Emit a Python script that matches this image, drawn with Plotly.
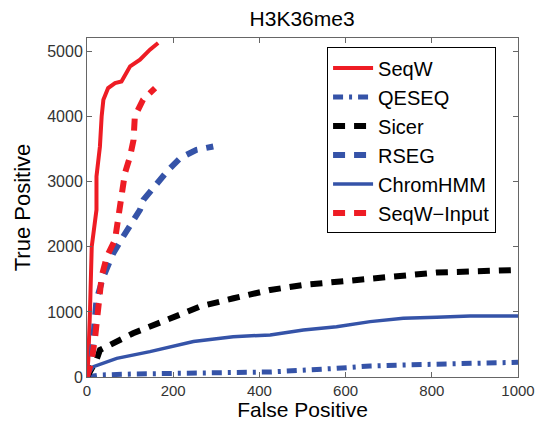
import plotly.graph_objects as go

# ---- data ----
seqw_x = [0, 3, 7, 11, 15, 22, 22, 26, 30, 34, 38, 49, 65, 80, 92, 100, 123, 146, 165]
seqw_y = [0, 260, 1030, 2005, 2210, 2570, 3082, 3287, 3543, 4005, 4262, 4441, 4518, 4543, 4697, 4774, 4877, 5030, 5133]

qeseq_x = [0, 30, 107, 262, 425, 579, 657, 734, 811, 889, 1000]
qeseq_y = [0, 31, 46, 62, 77, 133, 169, 185, 200, 210, 226]

sicer_x = [0, 22, 30, 107, 185, 262, 340, 425, 502, 579, 657, 734, 811, 889, 1000]
sicer_y = [0, 262, 415, 672, 877, 1082, 1210, 1338, 1415, 1467, 1518, 1569, 1605, 1621, 1646]

rseg_x = [0, 11, 15, 19, 22, 38, 61, 84, 123, 131, 162, 189, 216, 254, 293]
rseg_y = [0, 312, 620, 877, 1185, 1544, 1903, 2159, 2570, 2723, 2980, 3185, 3364, 3492, 3543]

chrom_x = [0, 3, 15, 69, 146, 200, 247, 339, 425, 502, 579, 657, 734, 811, 889, 1000]
chrom_y = [0, 51, 159, 287, 390, 467, 544, 620, 646, 723, 774, 851, 903, 918, 938, 938]

input_x = [0, 11, 19, 26, 34, 46, 65, 73, 77, 84, 88, 100, 108, 111, 130, 158]
input_y = [0, 260, 620, 1031, 1544, 1851, 2108, 2466, 2620, 2877, 3133, 3390, 3646, 4005, 4262, 4441]

RED = "#ee1c24"
BLUE = "#3553a8"

series = [
    ("SeqW", seqw_x, seqw_y, RED, "solid", 4),
    ("QESEQ", qeseq_x, qeseq_y, BLUE, "10px,6px,3px,6px", 5),
    ("Sicer", sicer_x, sicer_y, "black", "12px,9px", 6),
    ("RSEG", rseg_x, rseg_y, BLUE, "12px,9px", 6),
    ("ChromHMM", chrom_x, chrom_y, BLUE, "solid", 3.5),
    ("SeqW\u2212Input", input_x, input_y, RED, "12px,9px", 6),
]

fig = go.Figure()
for i, (name, xs, ys, col, dash, w) in enumerate(series):
    fig.add_trace(go.Scatter(x=xs, y=ys, mode="lines", name=name,
                             line=dict(color=col, dash=dash, width=w)))

FONT = "Liberation Sans, Arial, sans-serif"
axis_common = dict(showgrid=False, zeroline=False, showline=True, linecolor="#666",
                   linewidth=1, mirror="ticks", ticks="inside", ticklen=5, tickcolor="#666",
                   automargin=False)

fig.update_layout(
    width=537, height=421,
    margin=dict(l=87, r=19, t=38, b=44),
    paper_bgcolor="white", plot_bgcolor="white",
    title=dict(text="H3K36me3", x=0.5625, xanchor="center", y=0.955, yanchor="middle",
               font=dict(size=21, color="black", family=FONT)),
    xaxis=dict(range=[0, 1000], tickvals=[0, 200, 400, 600, 800, 1000],
               tickfont=dict(size=15, color="#333", family=FONT),
               title=dict(text="False Positive", font=dict(size=21, color="black", family=FONT), standoff=11),
               **axis_common),
    yaxis=dict(range=[0, 5210], tickvals=[0, 1000, 2000, 3000, 4000, 5000],
               tickfont=dict(size=16, color="#333", family=FONT),
               title=dict(text="True Positive", font=dict(size=22, color="black", family=FONT), standoff=10),
               **axis_common),
    legend=dict(x=0.557, y=0.972, xanchor="left", yanchor="top",
                bgcolor="white", bordercolor="black", borderwidth=1,
                font=dict(size=20, color="black", family=FONT),
                itemwidth=40),
    showlegend=True,
)

fig.write_html("out.html")
